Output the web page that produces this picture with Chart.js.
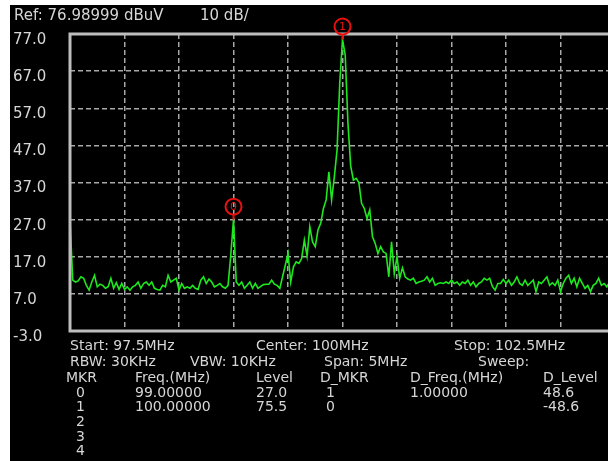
<!DOCTYPE html>
<html>
<head>
<meta charset="utf-8">
<script src="https://cdn.jsdelivr.net/npm/chart.js@4"></script>
<style>
    html, body { margin: 0; padding: 0; background: #fff; overflow: hidden; width: 608px; height: 461px; }
    #panel { position: absolute; left: 10px; top: 5px; width: 620px; height: 456px; background: #000; }
    canvas { display: block; }
</style>
</head>
<body>
<div id="panel"><canvas id="sa" width="620" height="456"></canvas></div>
<script>
// --- 掃描設定 ---
const startMHz = 97.5;
const stopMHz = 102.5;
const freqStep = 0.025;      // 201 點
const refLevel = 77.0;
const bottomLevel = -3.0;
const dbPerDiv = 10;

// 軌跡 (dBuV)，每 0.025 MHz 一點，從 97.5 MHz 開始
const levels = [
    27.0, 10.7, 10.2, 10.5, 11.6, 11.2, 9.3, 8.0, 10.2, 12.0,
    8.9, 9.6, 9.3, 8.5, 8.9, 11.2, 8.5, 10.0, 8.2, 9.8,
    8.2, 8.9, 8.0, 8.9, 9.3, 10.2, 8.5, 9.8, 10.2, 9.3,
    10.2, 8.5, 8.2, 8.0, 9.3, 8.9, 12.0, 10.2, 10.7, 11.2,
    8.0, 9.8, 8.5, 8.9, 8.5, 9.3, 8.5, 8.2, 10.7, 11.6,
    9.8, 11.0, 10.2, 8.9, 9.3, 9.8, 8.9, 8.5, 9.3, 17.4,
    27.0, 10.2, 9.3, 10.2, 8.5, 9.3, 10.2, 8.5, 9.8, 8.5,
    9.0, 9.5, 9.6, 9.6, 10.7, 9.6, 9.3, 8.5, 11.6, 14.7,
    17.9, 10.2, 14.3, 15.6, 15.2, 16.5, 21.5, 17.2, 25.1, 21.0,
    19.7, 24.2, 26.0, 30.0, 32.3, 39.9, 32.3, 38.5, 45.7, 64.0,
    75.5, 71.3, 53.0, 41.5, 37.6, 38.1, 37.0, 31.4, 30.0, 27.3,
    29.6, 22.4, 20.6, 17.9, 19.7, 18.3, 17.9, 11.6, 21.0, 12.5,
    17.0, 11.2, 14.0, 11.6, 11.0, 10.7, 11.2, 9.8, 10.2, 10.4,
    10.7, 11.6, 10.2, 11.2, 9.3, 9.8, 10.0, 9.8, 10.2, 9.8,
    10.7, 9.8, 10.2, 9.3, 10.2, 9.8, 10.7, 9.3, 10.2, 8.9,
    9.8, 10.2, 11.2, 10.7, 11.2, 9.0, 8.0, 9.8, 9.8, 10.9,
    9.8, 10.7, 9.3, 10.2, 11.6, 9.8, 9.3, 10.7, 9.3, 10.0,
    10.7, 7.6, 10.2, 9.8, 10.7, 11.6, 9.3, 10.0, 9.3, 10.7,
    7.6, 9.8, 11.2, 12.0, 9.8, 11.2, 8.9, 11.2, 9.8, 8.5,
    9.3, 7.6, 9.3, 9.8, 11.2, 9.3, 9.8, 8.9, 10.2, 9.5,
    10.0
];

// 標記
const markerIds = ['0', '1'];
const markerFreqs = [99.0, 100.0];
const markerLevels = [27.0, 75.5];

// 文字
const headerTexts = ['Ref: 76.98999 dBuV', '10 dB/'];
const footerRow1 = ['Start: 97.5MHz', 'Center: 100MHz', 'Stop: 102.5MHz'];
const footerRow2 = ['RBW: 30KHz', 'VBW: 10KHz', 'Span: 5MHz', 'Sweep:'];
const tableHead = ['MKR', 'Freq.(MHz)', 'Level', 'D_MKR', 'D_Freq.(MHz)', 'D_Level'];
const tableRows = [
    ['0', '99.00000', '27.0', '1', '1.00000', '48.6'],
    ['1', '100.00000', '75.5', '0', '', '-48.6'],
    ['2', '', '', '', '', ''],
    ['3', '', '', '', '', ''],
    ['4', '', '', '', '', '']
];

// --- 版面 (頁面座標，面板偏移 10,5) ---
const OFF_X = 10, OFF_Y = 5;
const TEXT_COLOR = '#d6d6d6';
const headerX = [14, 200];
const row1X = [70, 256, 454];
const row2X = [70, 190, 324, 478];
const tableX = [66, 135, 256, 320, 410, 543];
const tableCellX = [76, 135, 256, 326, 410, 543];
const footerY = [346, 362, 378, 393, 407, 422, 437, 451];

const points = levels.map((v, i) => ({ x: startMHz + i * freqStep, y: v }));

const overlayPlugin = {
    id: 'overlay',
    afterDraw(chart) {
        const { ctx, chartArea, scales } = chart;
        ctx.save();

        // 外框
        ctx.strokeStyle = '#bdbdbd';
        ctx.lineWidth = 3;
        ctx.setLineDash([]);
        ctx.strokeRect(chartArea.left, chartArea.top, chartArea.right - chartArea.left, chartArea.bottom - chartArea.top);

        // 標記圈
        markerFreqs.forEach((f, i) => {
            const px = scales.x.getPixelForValue(f);
            const py = scales.y.getPixelForValue(markerLevels[i]);
            const cy = py - 13;
            ctx.strokeStyle = '#e81010';
            ctx.lineWidth = 2;
            ctx.beginPath();
            ctx.arc(px, cy, 8, 0, Math.PI * 2);
            ctx.stroke();
            ctx.beginPath();
            ctx.moveTo(px, cy + 8);
            ctx.lineTo(px, py);
            ctx.stroke();
            ctx.fillStyle = '#e81010';
            ctx.font = '11px "DejaVu Sans"';
            ctx.textAlign = 'center';
            ctx.textBaseline = 'middle';
            ctx.fillText(markerIds[i], px, cy + 1);
        });

        // 文字
        ctx.fillStyle = TEXT_COLOR;
        ctx.textAlign = 'left';
        ctx.textBaseline = 'middle';
        ctx.font = '15px "DejaVu Sans"';
        headerTexts.forEach((t, i) => ctx.fillText(t, headerX[i] - OFF_X, 16 - OFF_Y));

        ctx.font = '14px "DejaVu Sans"';
        footerRow1.forEach((t, i) => ctx.fillText(t, row1X[i] - OFF_X, footerY[0] - OFF_Y));
        footerRow2.forEach((t, i) => ctx.fillText(t, row2X[i] - OFF_X, footerY[1] - OFF_Y));
        tableHead.forEach((t, i) => ctx.fillText(t, tableX[i] - OFF_X, footerY[2] - OFF_Y));
        tableRows.forEach((row, r) => {
            row.forEach((t, i) => {
                if (t) ctx.fillText(t, tableCellX[i] - OFF_X, footerY[3 + r] - OFF_Y);
            });
        });
        ctx.restore();
    }
};

new Chart(document.getElementById('sa'), {
    type: 'line',
    data: {
        datasets: [{
            data: points,
            borderColor: '#1ee81e',
            borderWidth: 1.6,
            pointRadius: 0,
            tension: 0,
            fill: false
        }]
    },
    options: {
        responsive: false,
        animation: false,
        devicePixelRatio: 1,
        layout: { padding: { left: 3, top: 29, right: 15, bottom: 130 } },
        plugins: { legend: { display: false }, tooltip: { enabled: false } },
        scales: {
            x: {
                type: 'linear',
                min: startMHz,
                max: stopMHz,
                ticks: { display: false, stepSize: 0.5 },
                grid: { color: '#a8a8a8', lineWidth: 1.5, drawTicks: false },
                border: { display: false, dash: [5, 3] },
                afterFit: s => { s.height = 0; }
            },
            y: {
                min: bottomLevel,
                max: refLevel,
                ticks: {
                    stepSize: dbPerDiv,
                    color: TEXT_COLOR,
                    font: { family: 'DejaVu Sans', size: 15 },
                    crossAlign: 'far',
                    labelOffset: 6,
                    callback: v => v.toFixed(1)
                },
                grid: { color: '#a8a8a8', lineWidth: 1.5, drawTicks: false },
                border: { display: false, dash: [5, 3] },
                afterFit: s => { s.width = 57; }
            }
        }
    },
    plugins: [overlayPlugin]
});
</script>
</body>
</html>
